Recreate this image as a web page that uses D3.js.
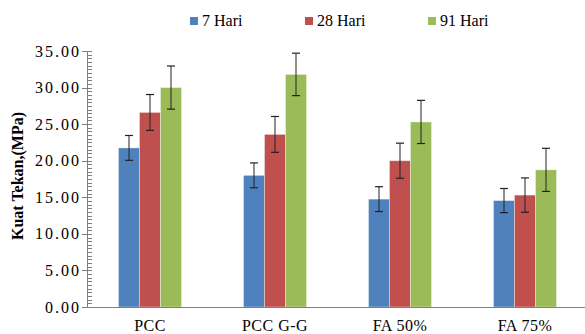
<!DOCTYPE html>
<html>
<head>
<meta charset="utf-8">
<script src="https://cdn.jsdelivr.net/npm/d3@7"></script>
</head>
<body style="margin:0;background:#fff">
<svg id="chart" width="585" height="334" style="display:block"></svg>
<script>
const categories = ["PCC", "PCC G-G", "FA 50%", "FA 75%"];
const seriesNames = ["7 Hari", "28 Hari", "91 Hari"];
const seriesColors = ["#4F81BD", "#C0504D", "#9BBB59"];
const values7 = [21.75, 18.0, 14.75, 14.55];
const values28 = [26.6, 23.6, 20.0, 15.3];
const values91 = [30.0, 31.8, 25.3, 18.75];
const err7 = [1.7, 1.7, 1.7, 1.65];
const err28 = [2.45, 2.45, 2.4, 2.35];
const err91 = [2.95, 2.9, 2.95, 2.95];
const yTicks = [0, 5, 10, 15, 20, 25, 30, 35];
const yTitle = "Kuat Tekan,(MPa)";

const seriesValues = [values7, values28, values91];
const seriesErr = [err7, err28, err91];
const FONT = '"Liberation Serif", serif';

const svg = d3.select("#chart");
const x0 = d3.scaleBand().domain(categories).range([87.5, 587.5]).paddingInner(0).paddingOuter(0);
const x1 = d3.scaleBand().domain(seriesNames).range([-31.5, 31.5]);
const y = d3.scaleLinear().domain([0, 35]).range([307, 51]);
const axisX = 87;

// minor ticks (every 0.5)
const minor = d3.range(0, 35.001, 0.5);
svg.append("g").selectAll("line").data(minor).join("line")
  .attr("x1", axisX).attr("x2", axisX + 5)
  .attr("y1", d => Math.round(y(d)) + 0.5).attr("y2", d => Math.round(y(d)) + 0.5)
  .attr("stroke", "#7f7f7f").attr("stroke-width", 1);

// major ticks
svg.append("g").selectAll("line").data(yTicks).join("line")
  .attr("x1", axisX - 5).attr("x2", axisX + 5)
  .attr("y1", d => Math.round(y(d)) + 0.5).attr("y2", d => Math.round(y(d)) + 0.5)
  .attr("stroke", "#7f7f7f").attr("stroke-width", 1);

// y axis line
svg.append("line").attr("x1", axisX + 0.5).attr("x2", axisX + 0.5)
  .attr("y1", y(35)).attr("y2", y(0)).attr("stroke", "#7f7f7f");

// tick labels
svg.append("g").selectAll("text").data(yTicks).join("text")
  .style("font-family", FONT)
  .attr("x", 81).attr("y", d => y(d) + 5.5)
  .attr("text-anchor", "end")
  .attr("font-size", 16)
  .attr("letter-spacing", 2)
  .attr("fill", "#000")
  .text(d => d.toFixed(2));

// y title
svg.append("text")
  .style("font-family", FONT)
  .attr("transform", `translate(23,176) rotate(-90)`)
  .attr("text-anchor", "middle")
  .attr("font-size", 16).attr("font-weight", "bold")
  .text(yTitle);

// bars
const groups = svg.append("g").selectAll("g").data(categories).join("g")
  .attr("transform", d => `translate(${x0(d) + x0.bandwidth() / 2},0)`);

groups.each(function(cat, ci) {
  const g = d3.select(this);
  seriesNames.forEach((s, si) => {
    const v = seriesValues[si][ci];
    g.append("rect")
      .attr("x", x1(s)).attr("width", x1.bandwidth())
      .attr("y", y(v)).attr("height", y(0) - y(v))
      .attr("fill", seriesColors[si])
      .attr("stroke", "rgba(255,255,255,0.5)").attr("stroke-width", 0.7);
  });
});

// x axis line
svg.append("line").attr("x1", axisX).attr("x2", 585)
  .attr("y1", y(0) + 0.5).attr("y2", y(0) + 0.5).attr("stroke", "#7f7f7f");

// error bars
groups.each(function(cat, ci) {
  const g = d3.select(this);
  seriesNames.forEach((s, si) => {
    const v = seriesValues[si][ci];
    const e = seriesErr[si][ci];
    const cx = x1(s) + x1.bandwidth() / 2;
    g.append("line").attr("x1", cx).attr("x2", cx)
      .attr("y1", y(v + e)).attr("y2", y(v - e)).attr("stroke", "#222").attr("stroke-width", 1);
    [v + e, v - e].forEach(t => {
      g.append("line").attr("x1", cx - 4).attr("x2", cx + 4)
        .attr("y1", y(t)).attr("y2", y(t)).attr("stroke", "#222").attr("stroke-width", 1.2);
    });
  });
});

// x labels
svg.append("g").selectAll("text").data(categories).join("text")
  .style("font-family", FONT)
  .attr("x", d => x0(d) + x0.bandwidth() / 2).attr("y", 331)
  .attr("text-anchor", "middle").attr("font-size", 16)
  .attr("letter-spacing", 0.5)
  .text(d => d);

// legend
const legendX = [190, 305, 428];
const lg = svg.append("g").selectAll("g").data(seriesNames).join("g")
  .attr("transform", (d, i) => `translate(${legendX[i]},16)`);
lg.append("rect").attr("width", 8).attr("height", 8).attr("y", 1)
  .attr("fill", (d, i) => seriesColors[i]);
lg.append("text").style("font-family", FONT)
  .attr("x", 12).attr("y", 10).attr("font-size", 16).text(d => d);
</script>
</body>
</html>
